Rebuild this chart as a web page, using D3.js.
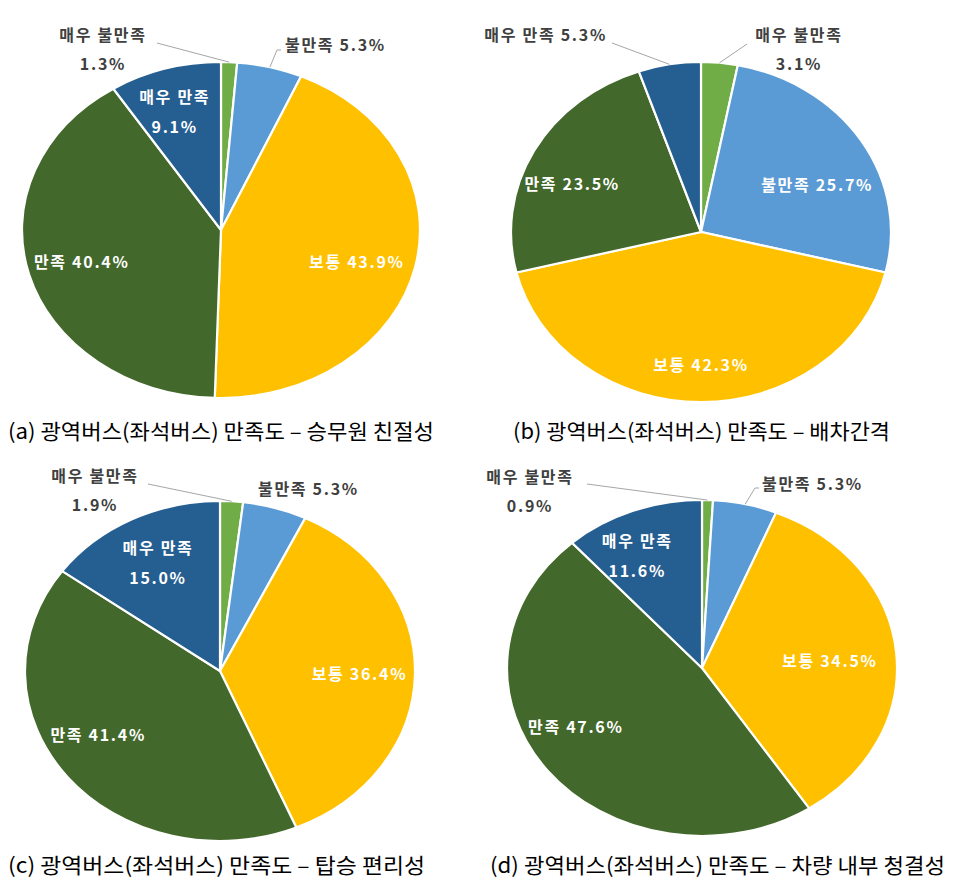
<!DOCTYPE html>
<html>
<head>
<meta charset="utf-8">
<script src="https://cdn.jsdelivr.net/npm/d3@7"></script>
<style>
  body { margin: 0; background: #fff; }
  svg { display: block; }
</style>
</head>
<body>
<div id="chart"></div>
<script>
// data
const categories = ["매우 불만족", "불만족", "보통", "만족", "매우 만족"]
const valuesA = [1.3, 5.3, 43.9, 40.4, 9.1]
const valuesB = [3.1, 25.7, 42.3, 23.5, 5.3]
const valuesC = [1.9, 5.3, 36.4, 41.4, 15.0]
const valuesD = [0.9, 5.3, 34.5, 47.6, 11.6]
const captions = [
  "(a) 광역버스(좌석버스) 만족도 – 승무원 친절성",
  "(b) 광역버스(좌석버스) 만족도 – 배차간격",
  "(c) 광역버스(좌석버스) 만족도 – 탑승 편리성",
  "(d) 광역버스(좌석버스) 만족도 – 차량 내부 청결성"
]
const colors = ["#70AD47", "#5B9BD5", "#FFC000", "#43682B", "#255E91"]

// layout (positions only)
const layouts = [
  { values: valuesA, cx: 221, cy: 230, rx: 199, ry: 168, cap: [8, 432, 426],
    labels: [
      { kind: "out2", x: 103, y: 35, lead: [[157, 43]] },
      { kind: "out1", x: 285, y: 45, lead: [[281, 50], [277, 50]] },
      { kind: "in", f: 0.7, dx: 0, dy: 6 },
      { kind: "in", f: 0.7, dx: -5, dy: 1 },
      { kind: "in2", f: 0.7, dx: -7, dy: -5 }
    ] },
  { values: valuesB, cx: 701, cy: 232, rx: 190, ry: 170, cap: [513, 432, 377],
    labels: [
      { kind: "out2", x: 799, y: 35, lead: [[747, 44]] },
      { kind: "in", f: 0.7, dx: 4, dy: 17 },
      { kind: "in", f: 0.7, dx: 0, dy: 14 },
      { kind: "in", f: 0.7, dx: -12, dy: 9 },
      { kind: "out1", x: 607, y: 35, anchor: "end", lead: [[612, 43]] }
    ] },
  { values: valuesC, cx: 220, cy: 671, rx: 195, ry: 170, cap: [8, 866, 417],
    labels: [
      { kind: "out2", x: 95, y: 476, lead: [[148, 484]] },
      { kind: "out1", x: 258, y: 489, lead: null },
      { kind: "in", f: 0.7, dx: 3, dy: 0 },
      { kind: "in", f: 0.7, dx: -15, dy: -10 },
      { kind: "in2", f: 0.7, dx: 0, dy: -2 }
    ] },
  { values: valuesD, cx: 702, cy: 668, rx: 195, ry: 168, cap: [490, 866, 455],
    labels: [
      { kind: "out2", x: 530, y: 477, lead: [[587, 484]] },
      { kind: "out1", x: 762, y: 484, lead: [[759, 488], [755, 488]] },
      { kind: "in", f: 0.7, dx: -8, dy: 5 },
      { kind: "in", f: 0.7, dx: -18, dy: -12 },
      { kind: "in2", f: 0.7, dx: -16, dy: -2 }
    ] }
]

const W = 955, H = 896
const font = "'Noto Sans CJK KR', 'Noto Sans', sans-serif"

const svg = d3.select("#chart").append("svg")
  .attr("width", W)
  .attr("height", H)

const pie = d3.pie().sort(null).value(d => d)
const arc = d3.arc().innerRadius(0).outerRadius(100)

function pt(L, a, f) {
  return [L.cx + L.rx * f * Math.sin(a), L.cy - L.ry * f * Math.cos(a)]
}

function labelStyle(t, fill) {
  return t.attr("fill", fill)
    .style("font-family", font)
    .style("font-weight", 700)
    .style("font-size", "16px")
    .style("letter-spacing", "1.7px")
}

layouts.forEach((L, ci) => {
  const arcs = pie(L.values)

  const g = svg.append("g")
    .attr("transform", "translate(" + L.cx + "," + L.cy + ") scale(" + (L.rx / 100) + "," + (L.ry / 100) + ")")

  g.selectAll("path")
    .data(arcs)
    .join("path")
    .attr("d", arc)
    .attr("fill", (d, i) => colors[i])
    .attr("stroke", "#fff")
    .attr("stroke-width", 2.2)
    .attr("vector-effect", "non-scaling-stroke")

  arcs.forEach((d, i) => {
    const lab = L.labels[i]
    const mid = (d.startAngle + d.endAngle) / 2
    const pct = categories[i] + " " + d.value.toFixed(1) + "%"
    const pctOnly = d.value.toFixed(1) + "%"

    if (lab.kind === "in" || lab.kind === "in2") {
      const p = pt(L, mid, lab.f)
      const x = p[0] + lab.dx, y = p[1] + lab.dy
      const t = labelStyle(svg.append("text"), "#fff")
        .attr("text-anchor", "middle")
      if (lab.kind === "in") {
        t.attr("x", x).attr("y", y).attr("dy", "0.35em").text(pct)
      } else {
        t.append("tspan").attr("x", x).attr("y", y - 15).attr("dy", "0.35em").text(categories[i])
        t.append("tspan").attr("x", x).attr("y", y + 15).attr("dy", "0.35em").text(pctOnly)
      }
    } else {
      if (lab.lead) {
        const end = pt(L, mid, 1)
        const pts = lab.lead.concat([end])
        svg.append("path")
          .attr("d", d3.line()(pts))
          .attr("fill", "none")
          .attr("stroke", "#A6A6A6")
          .attr("stroke-width", 1)
      }
      const t = labelStyle(svg.append("text"), "#404040")
      if (lab.kind === "out1") {
        t.attr("x", lab.x).attr("y", lab.y).attr("dy", "0.35em")
          .attr("text-anchor", lab.anchor || "start")
          .text(pct)
      } else {
        t.attr("text-anchor", "middle")
        t.append("tspan").attr("x", lab.x).attr("y", lab.y).attr("dy", "0.35em").text(categories[i])
        t.append("tspan").attr("x", lab.x).attr("y", lab.y + 29).attr("dy", "0.35em").text(pctOnly)
      }
    }
  })

  svg.append("text")
    .attr("x", L.cap[0])
    .attr("y", L.cap[1])
    .attr("dy", "0.35em")
    .attr("textLength", L.cap[2])
    .attr("lengthAdjust", "spacingAndGlyphs")
    .attr("fill", "#000")
    .style("font-family", font)
    .style("font-size", "21px")
    .text(captions[ci])
})
</script>
</body>
</html>
